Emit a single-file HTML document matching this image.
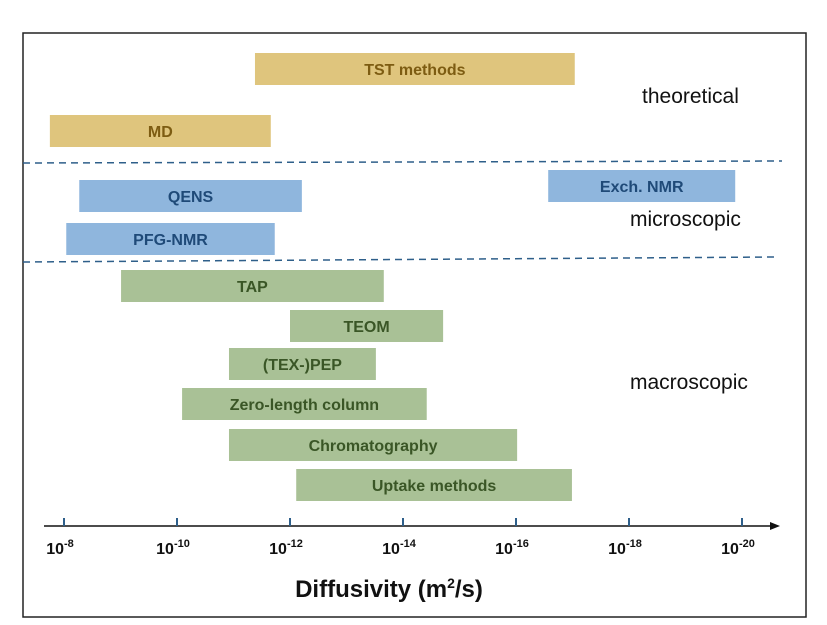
<!DOCTYPE html>
<html><head><meta charset="utf-8"><style>
body{margin:0;background:#fff;}
svg{display:block;font-family:"Liberation Sans",Arial,sans-serif;}
</style></head><body>
<svg id="c" width="827" height="625">
<rect x="23" y="33" width="783" height="584" fill="#fff" stroke="#222" stroke-width="1.5"/>
<line x1="23" y1="163" x2="782" y2="161" stroke="#2e5f8a" stroke-width="1.5" stroke-dasharray="7,5"/>
<line x1="23" y1="262" x2="775" y2="257" stroke="#2e5f8a" stroke-width="1.5" stroke-dasharray="7,5"/>
<text x="642" y="103" font-size="21" fill="#111">theoretical</text>
<text x="630" y="226" font-size="21" fill="#111">microscopic</text>
<text x="630" y="389" font-size="21" fill="#111">macroscopic</text>
<line x1="44" y1="526" x2="772" y2="526" stroke="#111" stroke-width="1.5"/>
<polygon points="780,526 770,522 770,530" fill="#111"/>
<text x="389" y="597" font-size="24" font-weight="bold" text-anchor="middle" fill="#111">Diffusivity (m<tspan font-size="14" dy="-9">2</tspan><tspan dy="9">/s)</tspan></text>
<g id="bars"></g><g id="ticks"></g>
</svg>
<script>
const methods=["TST methods","MD","QENS","PFG-NMR","Exch. NMR","TAP","TEOM","(TEX-)PEP","Zero-length column","Chromatography","Uptake methods"];
const lowExp=[11.38,7.75,8.27,8.04,16.57,9.01,12.0,10.92,10.09,10.92,12.11];
const highExp=[17.04,11.66,12.21,11.73,19.88,13.66,14.71,13.52,14.42,16.02,16.99];
const groups=["theoretical","theoretical","microscopic","microscopic","microscopic","macroscopic","macroscopic","macroscopic","macroscopic","macroscopic","macroscopic"];
const tickExps=[8,10,12,14,16,18,20];
const rowY=[53,115,180,223,170,270,310,348,388,429,469];
const fills={theoretical:"#dfc57d",microscopic:"#8fb6dd",macroscopic:"#a9c196"};
const inks={theoretical:"#7d5c12",microscopic:"#1f4a78",macroscopic:"#3a5626"};
const xs=e=>64+(e-8)*56.5;
const NS="http://www.w3.org/2000/svg";
const bars=document.getElementById("bars"),ticks=document.getElementById("ticks");
methods.forEach((m,i)=>{
 const r=document.createElementNS(NS,"rect");
 const x0=xs(lowExp[i]),x1=xs(highExp[i]);
 r.setAttribute("x",x0);r.setAttribute("y",rowY[i]);r.setAttribute("width",x1-x0);r.setAttribute("height",32);
 r.setAttribute("fill",fills[groups[i]]);
 
 
 bars.appendChild(r);
 const t=document.createElementNS(NS,"text");
 t.setAttribute("x",(x0+x1)/2);t.setAttribute("y",rowY[i]+22);t.setAttribute("text-anchor","middle");
 t.setAttribute("font-size","16");t.setAttribute("font-weight","bold");t.setAttribute("fill",inks[groups[i]]);
 t.textContent=m;
 
 
 bars.appendChild(t);
});
tickExps.forEach(e=>{
 const x=xs(e);
 const l=document.createElementNS(NS,"line");
 l.setAttribute("x1",x);l.setAttribute("x2",x);l.setAttribute("y1",518);l.setAttribute("y2",526);
 l.setAttribute("stroke","#2e5f8a");l.setAttribute("stroke-width","2");
 
 
 ticks.appendChild(l);
 const t=document.createElementNS(NS,"text");
 t.setAttribute("x",x-4);t.setAttribute("y",554);t.setAttribute("text-anchor","middle");
 t.setAttribute("font-size","16");t.setAttribute("font-weight","bold");t.setAttribute("fill","#111");
 t.innerHTML='10<tspan font-size="11" dy="-7">-'+e+'</tspan>';
 
 
 ticks.appendChild(t);
});
</script>
</body></html>
